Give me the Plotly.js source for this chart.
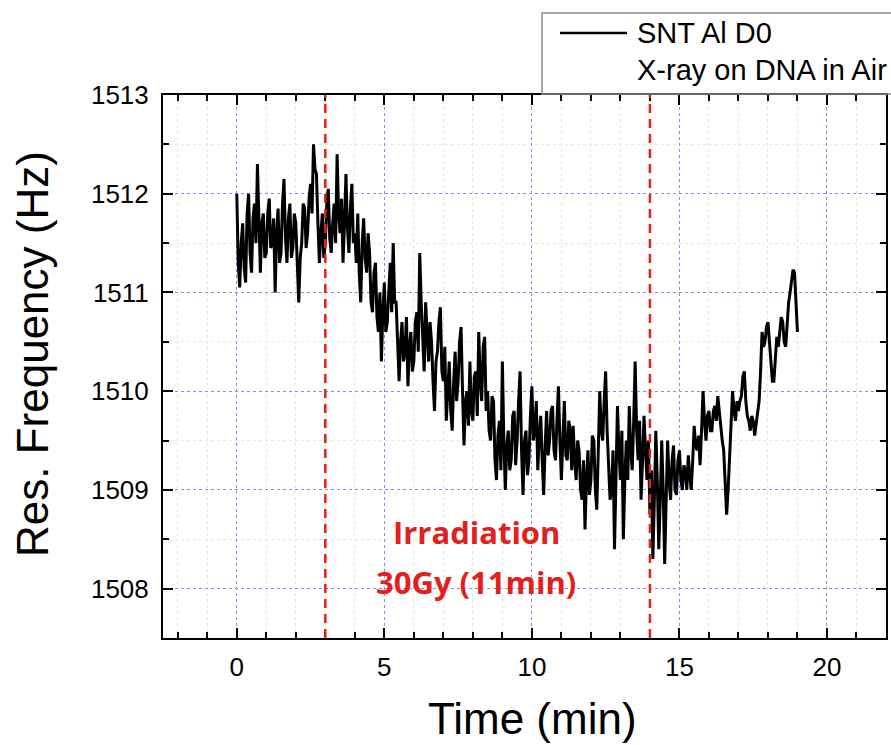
<!DOCTYPE html>
<html>
<head>
<meta charset="utf-8">
<script src="https://cdn.plot.ly/plotly-3.0.1.min.js"></script>
<style>
  html, body { margin: 0; padding: 0; background: #ffffff; }
  #chart { width: 891px; height: 745px; }
</style>
</head>
<body>
<div id="chart"></div>
<script>
// Time (min)
const timeMin = [
  0.00,0.05,0.10,0.15,0.20,0.25,0.30,0.35,0.40,0.45,
  0.50,0.55,0.60,0.65,0.70,0.75,0.80,0.85,0.90,0.95,
  1.00,1.05,1.10,1.15,1.20,1.25,1.30,1.35,1.40,1.45,
  1.50,1.55,1.60,1.65,1.70,1.75,1.80,1.85,1.90,1.95,
  2.00,2.05,2.10,2.15,2.20,2.25,2.30,2.35,2.40,2.45,
  2.50,2.55,2.60,2.65,2.70,2.75,2.80,2.85,2.90,2.95,
  3.00,3.05,3.10,3.15,3.20,3.25,3.30,3.35,3.40,3.45,
  3.50,3.55,3.60,3.65,3.70,3.75,3.80,3.85,3.90,3.95,
  4.00,4.05,4.10,4.15,4.20,4.25,4.30,4.35,4.40,4.45,
  4.50,4.55,4.60,4.65,4.70,4.75,4.80,4.85,4.90,4.95,
  5.00,5.05,5.10,5.15,5.20,5.25,5.30,5.35,5.40,5.45,
  5.50,5.55,5.60,5.65,5.70,5.75,5.80,5.85,5.90,5.95,
  6.00,6.05,6.10,6.15,6.20,6.25,6.30,6.35,6.40,6.45,
  6.50,6.55,6.60,6.65,6.70,6.75,6.80,6.85,6.90,6.95,
  7.00,7.05,7.10,7.15,7.20,7.25,7.30,7.35,7.40,7.45,
  7.50,7.55,7.60,7.65,7.70,7.75,7.80,7.85,7.90,7.95,
  8.00,8.05,8.10,8.15,8.20,8.25,8.30,8.35,8.40,8.45,
  8.50,8.55,8.60,8.65,8.70,8.75,8.80,8.85,8.90,8.95,
  9.00,9.05,9.10,9.15,9.20,9.25,9.30,9.35,9.40,9.45,
  9.50,9.55,9.60,9.65,9.70,9.75,9.80,9.85,9.90,9.95,
  10.00,10.05,10.10,10.15,10.20,10.25,10.30,10.35,10.40,10.45,
  10.50,10.55,10.60,10.65,10.70,10.75,10.80,10.85,10.90,10.95,
  11.00,11.05,11.10,11.15,11.20,11.25,11.30,11.35,11.40,11.45,
  11.50,11.55,11.60,11.65,11.70,11.75,11.80,11.85,11.90,11.95,
  12.00,12.05,12.10,12.15,12.20,12.25,12.30,12.35,12.40,12.45,
  12.50,12.55,12.60,12.65,12.70,12.75,12.80,12.85,12.90,12.95,
  13.00,13.05,13.10,13.15,13.20,13.25,13.30,13.35,13.40,13.45,
  13.50,13.55,13.60,13.65,13.70,13.75,13.80,13.85,13.90,13.95,
  14.00,14.05,14.10,14.15,14.20,14.25,14.30,14.35,14.40,14.45,
  14.50,14.55,14.60,14.65,14.70,14.75,14.80,14.85,14.90,14.95,
  15.00,15.05,15.10,15.15,15.20,15.25,15.30,15.35,15.40,15.45,
  15.50,15.55,15.60,15.65,15.70,15.75,15.80,15.85,15.90,15.95,
  16.00,16.05,16.10,16.15,16.20,16.25,16.30,16.35,16.40,16.45,
  16.50,16.55,16.60,16.65,16.70,16.75,16.80,16.85,16.90,16.95,
  17.00,17.05,17.10,17.15,17.20,17.25,17.30,17.35,17.40,17.45,
  17.50,17.55,17.60,17.65,17.70,17.75,17.80,17.85,17.90,17.95,
  18.00,18.05,18.10,18.15,18.20,18.25,18.30,18.35,18.40,18.45,
  18.50,18.55,18.60,18.65,18.70,18.75,18.80,18.85,18.90,18.95,
  19.00
];

// Resonance frequency (Hz)
const resFreqHz = [
  1512.0,1511.3,1511.05,1511.5,1511.7,1511.25,1511.1,1511.8,1512.0,1511.4,
  1511.2,1511.75,1511.9,1511.5,1512.3,1511.6,1511.2,1511.7,1511.8,1511.35,
  1511.4,1511.8,1511.95,1511.45,1511.5,1511.75,1511.0,1511.6,1511.85,1511.3,
  1511.4,1511.9,1512.15,1511.55,1511.3,1511.75,1511.9,1511.35,1511.45,1511.8,
  1511.7,1511.3,1510.9,1511.35,1511.5,1511.9,1511.85,1511.45,1511.6,1511.95,
  1512.1,1511.8,1512.5,1512.25,1512.2,1511.7,1511.3,1511.6,1511.8,1511.35,
  1511.5,1511.9,1512.05,1511.55,1511.4,1511.7,1511.9,1511.5,1512.4,1511.8,
  1511.6,1511.95,1511.3,1511.7,1512.2,1511.65,1511.4,1511.85,1512.1,1511.5,
  1511.6,1511.3,1511.8,1511.2,1510.9,1511.5,1511.75,1511.35,1511.2,1511.6,
  1511.4,1510.9,1510.8,1511.2,1511.3,1510.75,1510.6,1511.0,1510.3,1510.8,
  1511.1,1510.6,1510.7,1511.0,1511.3,1510.8,1511.5,1510.9,1510.9,1510.5,
  1510.1,1510.5,1510.7,1510.3,1510.4,1510.75,1510.05,1510.45,1510.6,1510.2,
  1510.3,1510.7,1510.8,1510.4,1511.4,1510.9,1510.6,1510.2,1510.9,1510.5,
  1510.3,1510.7,1510.5,1510.1,1509.8,1510.3,1510.4,1510.7,1510.85,1510.2,
  1510.1,1510.45,1509.7,1510.0,1510.3,1509.8,1509.6,1510.1,1510.4,1509.9,
  1510.1,1510.5,1510.65,1510.0,1509.45,1509.9,1510.0,1509.65,1510.3,1509.8,
  1509.7,1510.15,1510.2,1509.75,1510.6,1510.1,1509.9,1510.45,1510.55,1509.8,
  1510.0,1509.6,1509.5,1509.95,1509.9,1509.3,1509.1,1509.55,1509.7,1509.2,
  1510.3,1509.5,1509.0,1509.45,1509.6,1509.2,1509.3,1509.75,1509.8,1509.25,
  1509.5,1509.9,1510.2,1509.4,1508.95,1509.5,1509.6,1509.15,1509.3,1509.75,
  1510.05,1509.5,1509.6,1509.9,1509.2,1509.55,1509.75,1509.3,1508.95,1509.45,
  1509.8,1509.35,1509.5,1509.8,1509.85,1509.4,1509.3,1509.7,1510.05,1509.5,
  1509.1,1509.5,1509.9,1509.35,1509.3,1509.7,1509.6,1509.2,1509.65,1509.3,
  1509.1,1509.5,1509.4,1509.0,1508.9,1509.3,1508.6,1509.1,1509.4,1508.95,
  1509.1,1509.55,1509.5,1509.0,1508.8,1509.4,1510.0,1509.6,1509.5,1509.9,
  1510.2,1509.6,1509.3,1508.9,1509.0,1509.4,1508.4,1509.0,1509.85,1509.4,
  1509.1,1509.6,1508.5,1509.1,1509.5,1509.1,1509.85,1509.4,1509.2,1509.7,
  1510.3,1509.6,1509.3,1509.7,1508.9,1509.3,1509.75,1509.4,1509.1,1509.5,
  1508.75,1509.2,1508.3,1508.9,1509.6,1509.1,1508.4,1508.9,1509.5,1509.0,
  1508.25,1508.9,1509.5,1509.1,1508.9,1509.3,1509.45,1509.0,1508.95,1509.3,
  1509.4,1509.1,1509.0,1509.25,1509.2,1509.0,1509.35,1509.15,1509.0,1509.3,
  1509.65,1509.45,1509.4,1509.55,1509.25,1509.6,1510.0,1509.7,1509.5,1509.75,
  1509.8,1509.6,1509.6,1509.8,1509.85,1509.7,1509.95,1509.8,1509.6,1509.5,
  1509.4,1509.1,1508.75,1509.0,1509.3,1509.7,1510.0,1509.8,1509.7,1509.9,
  1509.8,1509.9,1509.95,1510.15,1510.2,1509.9,1509.75,1509.7,1509.6,1509.75,
  1509.7,1509.55,1509.65,1509.8,1509.9,1510.2,1510.6,1510.45,1510.5,1510.65,
  1510.7,1510.5,1510.3,1510.1,1510.1,1510.35,1510.55,1510.45,1510.6,1510.75,
  1510.7,1510.5,1510.45,1510.7,1510.9,1511.0,1511.1,1511.23,1511.2,1510.9,
  1510.6
];

// Irradiation window markers (min)
const irradiationBounds = [3, 14];
const seriesName = "SNT Al D0";
const legendSubtitle = "X-ray on DNA in Air";
const annotationLines = ["Irradiation", "30Gy (11min)"];
const xTitle = "Time (min)";
const yTitle = "Res. Frequency (Hz)";

const red = "#e3201c";
const fontSans = "Liberation Sans, Arial, sans-serif";

// plot-area geometry helpers (pixels -> paper)
const PL = 163, PR = 886, PT = 95, PB = 638;
const px = v => (v - PL) / (PR - PL);
const py = v => (PB - v) / (PB - PT);

const trace = {
  x: timeMin,
  y: resFreqHz,
  type: "scatter",
  mode: "lines",
  name: seriesName,
  line: { color: "#000000", width: 3 },
  showlegend: false
};

const shapes = irradiationBounds.map(v => ({
  type: "line", xref: "x", yref: "paper",
  x0: v, x1: v, y0: 0, y1: 1,
  line: { color: red, width: 2.5, dash: "9px,6px" },
  layer: "above"
}));

// legend box (drawn manually to match the reference)
shapes.push({
  type: "rect", xref: "paper", yref: "paper",
  x0: px(542), x1: px(905), y0: py(94), y1: py(13),
  line: { color: "#8a8a8a", width: 1.5 },
  fillcolor: "rgba(0,0,0,0)", layer: "above"
});
shapes.push({
  type: "line", xref: "paper", yref: "paper",
  x0: px(560), x1: px(627), y0: py(33), y1: py(33),
  line: { color: "#000000", width: 2.5 }
});

const annotations = [
  {
    xref: "paper", yref: "paper", x: px(635), y: py(33),
    xanchor: "left", yanchor: "middle",
    text: seriesName, showarrow: false,
    font: { family: fontSans, size: 29, color: "#000" }
  },
  {
    xref: "paper", yref: "paper", x: px(635), y: py(70),
    xanchor: "left", yanchor: "middle",
    text: legendSubtitle, showarrow: false,
    font: { family: fontSans, size: 29, color: "#000" }
  },
  {
    xref: "x", yref: "y", x: 8.12, y: 1508.57,
    xanchor: "center", yanchor: "middle",
    text: "<b>" + annotationLines[0] + "</b>", showarrow: false,
    font: { family: "Open Sans, sans-serif", size: 31, color: red }
  },
  {
    xref: "x", yref: "y", x: 8.12, y: 1508.07,
    xanchor: "center", yanchor: "middle",
    text: "<b>" + annotationLines[1] + "</b>", showarrow: false,
    font: { family: "Open Sans, sans-serif", size: 31, color: red }
  },
  {
    xref: "paper", yref: "paper", x: px(532), y: py(718),
    xanchor: "center", yanchor: "middle",
    text: xTitle, showarrow: false,
    font: { family: fontSans, size: 44, color: "#000" }
  },
  {
    xref: "paper", yref: "paper", x: px(32), y: py(354),
    xanchor: "center", yanchor: "middle", textangle: -90,
    text: yTitle, showarrow: false,
    font: { family: fontSans, size: 44, color: "#000" }
  }
];

const axisCommon = {
  showline: true, linecolor: "#000000", linewidth: 2,
  mirror: "ticks",
  ticks: "inside", ticklen: 10, tickwidth: 2, tickcolor: "#000000",
  showgrid: true, gridcolor: "#8c8ce6", gridwidth: 1, griddash: "dot",
  zeroline: false,
  tickfont: { family: fontSans, size: 26, color: "#000" }
};

const layout = {
  width: 891, height: 745,
  margin: { l: PL, r: 891 - PR, t: PT, b: 745 - PB },
  paper_bgcolor: "#ffffff", plot_bgcolor: "#ffffff",
  xaxis: Object.assign({}, axisCommon, {
    range: [-2.5, 22],
    tick0: 0, dtick: 5,
    ticklabelstandoff: 5,
    minor: { dtick: 1, ticks: "inside", ticklen: 6, tickwidth: 2, tickcolor: "#000",
             showgrid: true, gridcolor: "#d6f2d6", gridwidth: 1 }
  }),
  yaxis: Object.assign({}, axisCommon, {
    range: [1507.5, 1513],
    tick0: 1508, dtick: 1,
    ticklabelstandoff: 7,
    minor: { dtick: 0.5, ticks: "inside", ticklen: 6, tickwidth: 2, tickcolor: "#000",
             showgrid: true, gridcolor: "#d6f2d6", gridwidth: 1 }
  }),
  shapes: shapes,
  annotations: annotations,
  showlegend: false
};

Plotly.newPlot("chart", [trace], layout, { staticPlot: true, displayModeBar: false });
</script>
</body>
</html>
